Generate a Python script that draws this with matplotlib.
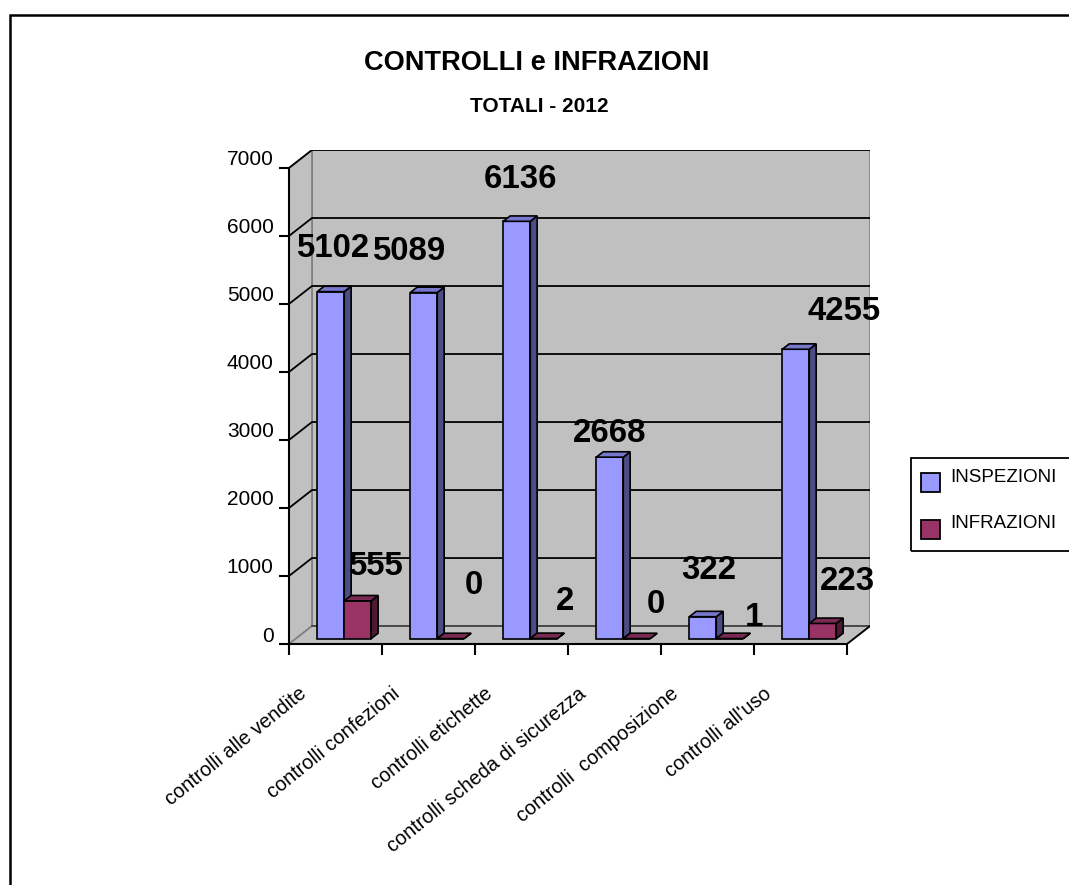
import matplotlib
matplotlib.use('Agg')
import matplotlib.pyplot as plt
from matplotlib.patches import Polygon, Rectangle
from matplotlib.transforms import ScaledTranslation

plt.rcParams['font.family'] = ['Liberation Sans', 'DejaVu Sans']

# dati
categorie = ['controlli alle vendite', 'controlli confezioni', 'controlli etichette',
             'controlli scheda di sicurezza', 'controlli  composizione', "controlli all'uso"]
inspezioni = [5102, 5089, 6136, 2668, 322, 4255]
infrazioni = [555, 0, 2, 0, 1, 223]
serie = ['INSPEZIONI', 'INFRAZIONI']
y_ticks = [0, 1000, 2000, 3000, 4000, 5000, 6000, 7000]

# colori (fronte, lato, sopra)
col_insp = ('#9999FF', '#4D4D85', '#7777CC')
col_infr = ('#993366', '#4D1A33', '#7A2952')

# spostamento etichette valori, in pixel rispetto al centro alto della barra
off_insp = [(2, 46), (-15, 44), (4, 45), (0, 27), (6, 50), (48, 41)]
off_infr = [(18, 38), (23, 56), (21, 40), (19, 37), (24, 24), (25, 45)]

W, H = 1069, 885
fig = plt.figure(figsize=(W / 100, H / 100), dpi=100)
fig.patch.set_facecolor('white')

n = len(categorie)
ymax = 7000
DX = 0.247   # profondita' in unita' categoria
DY = 264     # profondita' in unita' valore
d0, d1 = 0.3, 0.6   # profondita' fronte / retro delle barre
w = 0.29
fs_val = 23.8

ax = fig.add_axes([289 / W, 1 - 644 / H, 581 / W, 494 / H])
ax.set_xlim(0, n + DX)
ax.set_ylim(0, ymax + DY)
ax.set_facecolor('none')

# pareti e pavimento
wall = '#C0C0C0'
edge = '#808080'
ax.add_patch(Polygon([(DX, DY), (n + DX, DY), (n + DX, ymax + DY), (DX, ymax + DY)],
                     fc=wall, ec=edge, lw=1.2, zorder=0))
ax.add_patch(Polygon([(0, 0), (DX, DY), (DX, ymax + DY), (0, ymax)],
                     fc=wall, ec=edge, lw=1.2, zorder=0))
ax.add_patch(Polygon([(0, 0), (n, 0), (n + DX, DY), (DX, DY)],
                     fc=wall, ec=edge, lw=1.2, zorder=0))
for t in y_ticks:
    if t == 0:
        ax.plot([DX, n + DX], [DY, DY], color='#404040', lw=1.2, zorder=1)
    else:
        ax.plot([0, DX, n + DX], [t, t + DY, t + DY], color='black', lw=1.3, zorder=1)
ax.plot([n, n + DX], [0, DY], color='black', lw=1.3, zorder=1)


def barra3d(x0, v, cols):
    xf = x0 + d0 * DX
    yb = d0 * DY
    ex = (d1 - d0) * DX
    ey = (d1 - d0) * DY
    ax.bar(xf, v, width=w, bottom=yb, align='edge', color=cols[0],
           edgecolor='black', lw=1.2, zorder=3)
    ax.add_patch(Polygon([(xf + w, yb), (xf + w + ex, yb + ey), (xf + w + ex, yb + v + ey),
                          (xf + w, yb + v)], fc=cols[1], ec='black', lw=1.2, zorder=3))
    ax.add_patch(Polygon([(xf, yb + v), (xf + w, yb + v), (xf + w + ex, yb + v + ey),
                          (xf + ex, yb + v + ey)], fc=cols[2], ec='black', lw=1.2, zorder=3))
    return xf + w / 2, yb + v


cap = 0.716 * fs_val * 100 / 72 / 2   # meta' altezza cifre
for i in range(n):
    xb = i + 0.5 - w + 0.02
    for x0, vals, cols, offs in [(xb, inspezioni, col_insp, off_insp),
                                 (xb + w, infrazioni, col_infr, off_infr)]:
        cx, cy = barra3d(x0, vals[i], cols)
        ax.annotate(str(vals[i]), (cx, cy), xytext=(offs[i][0], offs[i][1] - cap),
                    textcoords='offset pixels', ha='center', va='baseline',
                    fontsize=fs_val, fontweight='bold', zorder=6)

# assi
for s in ['top', 'right']:
    ax.spines[s].set_visible(False)
ax.spines['left'].set_bounds(0, ymax)
ax.spines['bottom'].set_bounds(0, n)
for s in ['left', 'bottom']:
    ax.spines[s].set_linewidth(1.5)
    ax.spines[s].set_zorder(4)
ax.set_yticks(y_ticks)
ax.set_yticklabels([str(t) for t in y_ticks])
ax.set_xticks(range(n + 1))
ax.set_xticklabels([])
ax.tick_params(axis='y', length=7, width=1.5, pad=4, labelsize=15)
ax.tick_params(axis='x', length=8, width=1.5)
for lab in ax.get_yticklabels():
    lab.set_transform(lab.get_transform() + ScaledTranslation(0, 0.1, fig.dpi_scale_trans))

for i, c in enumerate(categorie):
    ax.annotate(c, (i + 0.5, 0), xytext=(-37, -40), textcoords='offset pixels',
                rotation=39, rotation_mode='anchor', ha='right', va='top', fontsize=14.3)

# titoli
fig.text(537 / W, 1 - 62.5 / H, 'CONTROLLI e INFRAZIONI', ha='center', va='center',
         fontsize=19.6, fontweight='bold')
fig.text(539 / W, 1 - 106.5 / H, 'TOTALI - 2012', ha='center', va='center',
         fontsize=15, fontweight='bold')

# legenda
fig.patches.append(Rectangle((911 / W, 1 - 551 / H), 0.2, 93 / H, transform=fig.transFigure,
                             fill=False, ec='black', lw=1.3))
for k, (nome, cols) in enumerate(zip(serie, [col_insp, col_infr])):
    top = 473 + k * 47
    fig.patches.append(Rectangle((921 / W, 1 - (top + 19) / H), 19 / W, 19 / H,
                                 transform=fig.transFigure, fc=cols[0], ec='black', lw=1.3))
    fig.text(950 / W, 1 - (482 + k * 46.5) / H, nome, ha='left', va='baseline', fontsize=13.5)

# cornice esterna
fig.patches.append(Rectangle((9.5 / W, -0.2), 1.2, 1.2 - 15 / H, transform=fig.transFigure,
                             fill=False, ec='black', lw=1.8))

fig.savefig('out.png', dpi=100)
